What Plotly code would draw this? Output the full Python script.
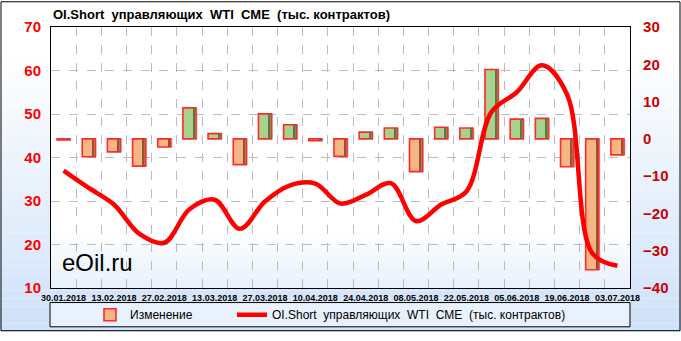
import plotly.graph_objects as go

# ---- data ----
dates = ["30.01.2018", "06.02.2018", "13.02.2018", "20.02.2018", "27.02.2018",
         "06.03.2018", "13.03.2018", "20.03.2018", "27.03.2018", "03.04.2018",
         "10.04.2018", "17.04.2018", "24.04.2018", "01.05.2018", "08.05.2018",
         "15.05.2018", "22.05.2018", "29.05.2018", "05.06.2018", "12.06.2018",
         "19.06.2018", "26.06.2018", "03.07.2018"]
changes = [-0.3, -4.8, -3.5, -7.3, -2.2, 8.3, 1.4, -6.9, 6.7, 3.8,
           -0.5, -4.7, 1.8, 2.9, -8.8, 3.1, 2.9, 18.6, 5.3, 5.5,
           -7.5, -35.1, -4.3]
oi_short = [37.0, 33.0, 29.2, 22.5, 20.4, 28.1, 30.3, 23.6, 29.9, 33.6,
            34.0, 29.4, 31.4, 34.1, 25.4, 29.2, 32.2, 50.5, 55.0, 61.2,
            54.5, 18.0, 15.1]
left_ticks = [10, 20, 30, 40, 50, 60, 70]
right_ticks = [-40, -30, -20, -10, 0, 10, 20, 30]

name_bars = "Изменение"
name_line = "OI.Short\u00a0 управляющих\u00a0 WTI\u00a0 CME\u00a0 (тыс. контрактов)"
title_text = "OI.Short\u00a0 управляющих\u00a0 WTI\u00a0 CME\u00a0 (тыс. контрактов)"

# ---- layout geometry (pixels) ----
W, H = 681, 341
ML, MR, MT, MB = 51, 51, 27, 45
PW, PH = W - ML - MR, H - MT - MB

def px_x(x):
    return (x - ML) / PW

def px_y(y):
    return (H - MB - y) / PH

idx = list(range(len(dates)))
bar_colors = ["#a9d18e" if v >= 0 else "#f7b586" for v in changes]
edge_colors = ["#587a40" if v >= 0 else "#8e5634" for v in changes]

fig = go.Figure()
# soft shadow behind the bars
fig.add_trace(go.Bar(
    x=idx, y=changes, width=0.52, offset=-0.2, showlegend=False, hoverinfo="skip",
    marker=dict(color="rgba(60,60,60,0.28)", line=dict(width=0)),
    xaxis="x", yaxis="y",
))
fig.add_trace(go.Bar(
    x=idx, y=changes, name=name_bars, width=0.52, offset=-0.26,
    marker=dict(color=bar_colors, line=dict(color="#ff2a2a", width=1.6)),
    xaxis="x", yaxis="y", legend="legend",
))
# darker bevel edge on the right side of each bar
fig.add_trace(go.Bar(
    x=idx, y=changes, width=0.07, offset=0.15, showlegend=False, hoverinfo="skip",
    marker=dict(color=edge_colors, line=dict(width=0)),
    xaxis="x", yaxis="y",
))
fig.add_trace(go.Scatter(
    x=idx, y=oi_short, name=name_line, mode="lines",
    line=dict(color="#ff0000", width=4.5, shape="spline", smoothing=1.0),
    xaxis="x2", yaxis="y2", legend="legend2",
))

shapes = []
# page gradient
N = 40
for i in range(N):
    y0 = H * i / N
    y1 = H * (i + 1) / N
    t = max(0.0, ((y0 + y1) / 2 - 60) / (H - 60))
    c = (int(255 - t * 48), int(255 - t * 29), int(255 - t * 6))
    shapes.append(dict(type="rect", xref="paper", yref="paper", layer="below",
                       x0=px_x(0), x1=px_x(W), y0=px_y(y1), y1=px_y(y0),
                       fillcolor="rgb(%d,%d,%d)" % c, line=dict(width=0)))
# plot area
shapes.append(dict(type="rect", xref="paper", yref="paper", layer="below",
                   x0=0, x1=1, y0=0, y1=1, fillcolor="white", line=dict(width=0)))
M = 14
top = 235
for i in range(M):
    y0 = top + (H - MB - top) * i / M
    y1 = top + (H - MB - top) * (i + 1) / M
    t = (i + 0.5) / M
    c = (int(255 - t * 24), int(255 - t * 14), int(255 - t * 3))
    shapes.append(dict(type="rect", xref="paper", yref="paper", layer="below",
                       x0=0, x1=1, y0=px_y(y1), y1=px_y(y0),
                       fillcolor="rgb(%d,%d,%d)" % c, line=dict(width=0)))
# legend box
shapes.append(dict(type="rect", xref="paper", yref="paper", layer="below",
                   x0=px_x(50), x1=px_x(630), y0=px_y(336), y1=px_y(311),
                   fillcolor="rgb(232,241,252)", line=dict(color="black", width=1)))
# outer border
shapes.append(dict(type="rect", xref="paper", yref="paper", layer="above",
                   x0=px_x(1), x1=px_x(680), y0=px_y(340), y1=px_y(1),
                   line=dict(color="black", width=1)))

legend_font = dict(family="Liberation Sans", size=12, color="black")

fig.update_layout(
    width=W, height=H,
    margin=dict(l=ML, r=MR, t=MT, b=MB),
    paper_bgcolor="white",
    plot_bgcolor="rgba(0,0,0,0)",
    showlegend=True,
    barmode="overlay",
    shapes=shapes,
    title=dict(text=title_text, xref="paper", x=px_x(53), xanchor="left",
               yref="container", y=1 - 14 / H, yanchor="middle",
               font=dict(family="Liberation Sans", size=13, color="black", weight="bold")),
    legend=dict(orientation="h", xref="paper", yref="paper",
                x=px_x(90), xanchor="left", y=px_y(323.5), yanchor="middle",
                bgcolor="rgba(0,0,0,0)", borderwidth=0, font=legend_font),
    legend2=dict(orientation="h", xref="paper", yref="paper",
                 x=px_x(232), xanchor="left", y=px_y(323.5), yanchor="middle",
                 bgcolor="rgba(0,0,0,0)", borderwidth=0, font=legend_font),
    xaxis=dict(range=[-0.5, len(dates) - 0.5], tickmode="array",
               tickvals=idx[::2], ticktext=dates[::2], showgrid=False,
               zeroline=False, showline=True, mirror=True, linecolor="black",
               linewidth=1.2, ticks="", ticklabelstandoff=1,
               tickfont=dict(family="Liberation Sans", size=9, color="black", weight="bold")),
    xaxis2=dict(overlaying="x", range=[-0.5, len(dates) - 0.5], tickmode="linear",
                tick0=0.5, dtick=1, showgrid=True, gridcolor="#bcbcbc",
                griddash="dash", gridwidth=1, showticklabels=False, ticks="",
                zeroline=False, showline=False),
    yaxis=dict(side="right", range=[-40, 30], tickmode="array", tickvals=right_ticks,
               showgrid=False, zeroline=False, showline=True, mirror=True,
               linecolor="black", linewidth=1.2, ticks="", ticklabelstandoff=9,
               tickfont=dict(family="Liberation Sans", size=15, color="#cc0000", weight="bold")),
    yaxis2=dict(overlaying="y", side="left", range=[10, 70], tickmode="array",
                tickvals=left_ticks, showgrid=True, gridcolor="#bcbcbc",
                griddash="dash", gridwidth=1, zeroline=False, showline=False,
                ticks="", ticklabelstandoff=9,
                tickfont=dict(family="Liberation Sans", size=15, color="#ff0000", weight="bold")),
    annotations=[dict(text="eOil.ru", xref="paper", yref="paper",
                      x=px_x(60), xanchor="left", y=px_y(270), yanchor="middle",
                      showarrow=False,
                      font=dict(family="Liberation Sans", size=24, color="black"))],
)

fig.write_html("out.html")
